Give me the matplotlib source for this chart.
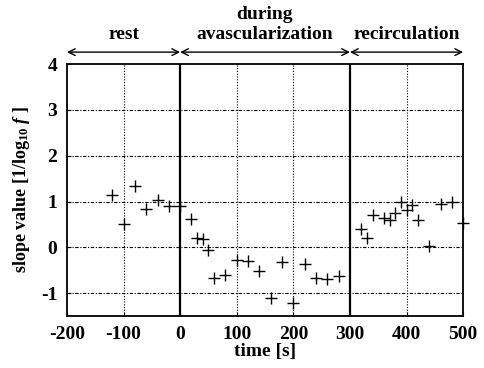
import matplotlib
matplotlib.use("Agg")
import matplotlib.pyplot as plt

rest_t = [-120, -100, -80, -60, -40, -20, 0]
rest_v = [1.15, 0.5, 1.33, 0.84, 1.04, 0.9, 0.9]
during_t = [20, 30, 40, 50, 60, 80, 100, 120, 140, 160, 180, 200, 220, 240, 260, 280]
during_v = [0.62, 0.21, 0.19, -0.05, -0.67, -0.6, -0.28, -0.3, -0.51, -1.1, -0.33, -1.22, -0.37, -0.66, -0.7, -0.63]
recirc_t = [320, 330, 340, 360, 370, 380, 390, 400, 410, 420, 440, 460, 480, 500]
recirc_v = [0.39, 0.2, 0.7, 0.63, 0.6, 0.74, 0.98, 0.82, 0.92, 0.6, 0.04, 0.94, 0.99, 0.54]

phases = ["rest", "during\navascularization", "recirculation"]
phase_bounds = [-200, 0, 300, 500]
xticks = [-200, -100, 0, 100, 200, 300, 400, 500]
yticks = [-1, 0, 1, 2, 3, 4]

plt.rcParams['font.family'] = ['Liberation Serif', 'DejaVu Serif']
plt.rcParams['font.weight'] = 'bold'
plt.rcParams['axes.unicode_minus'] = False
plt.rcParams['mathtext.fontset'] = 'custom'
plt.rcParams['mathtext.rm'] = 'Liberation Serif:bold'
plt.rcParams['mathtext.it'] = 'Liberation Serif:italic:bold'

fig = plt.figure(figsize=(4.85, 3.68), dpi=100)
ax = fig.add_axes([0.138, 0.141, 0.817, 0.685])

t = rest_t + during_t + recirc_t
v = rest_v + during_v + recirc_v
ax.plot(t, v, linestyle='none', marker='+', markersize=8, color='black', markeredgewidth=1.0, clip_on=False, zorder=5)

ax.set_xlim(-200, 500)
ax.set_ylim(-1.5, 4)
ax.set_xticks(xticks)
ax.set_yticks(yticks)
ax.tick_params(direction='in', length=3, width=0.8, labelsize=14, pad=7)
for lbl in ax.get_xticklabels() + ax.get_yticklabels():
    lbl.set_fontweight('bold')

for x in [-100, 100, 200, 400]:
    ax.axvline(x, color='black', linestyle=(0, (1, 1.5)), linewidth=0.8, zorder=1)
for y in [-1, 0, 1, 2, 3]:
    ax.axhline(y, color='black', linestyle=(0, (3, 1.5, 1, 1.5)), linewidth=0.8, zorder=1)
for x in [0, 300]:
    ax.axvline(x, color='black', linewidth=1.6, zorder=2)
for s in ax.spines.values():
    s.set_linewidth(1.3)

ax.set_xlabel("time [s]", fontsize=14, fontweight='bold', labelpad=0)
ax.set_ylabel(r"slope value [1/log$_{\mathregular{10}}$ $f$ ]", fontsize=13, fontweight='bold', labelpad=6)

# phase arrows above the axes
ytop = 4.26
for i, name in enumerate(phases):
    a, b = phase_bounds[i], phase_bounds[i + 1]
    ax.annotate("", xy=(a, ytop), xytext=(b, ytop), xycoords='data', textcoords='data',
                arrowprops=dict(arrowstyle='<->', color='black', lw=1.0, shrinkA=0, shrinkB=0,
                                mutation_scale=12), annotation_clip=False)
    ax.text((a + b) / 2, ytop + 0.2, name, ha='center', va='bottom', fontsize=14,
            fontweight='bold', linespacing=1.2, clip_on=False)

fig.savefig("out.png", dpi=100)
